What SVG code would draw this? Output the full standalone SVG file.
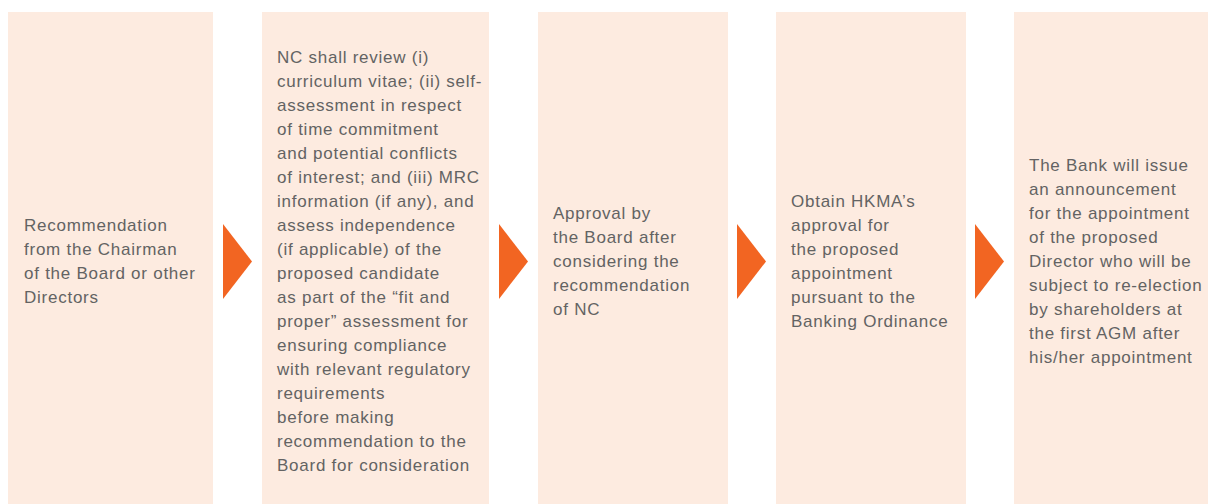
<svg xmlns="http://www.w3.org/2000/svg" width="1208" height="504" viewBox="0 0 1208 504">
<style>
.box{fill:#FDEBE0}
.t{font-family:"Liberation Sans",Arial,sans-serif;font-size:17px;letter-spacing:0.75px;fill:#636363}
.arr{fill:#F26522}
</style>
<rect width="1208" height="504" fill="#fff"/>
<g id="node1">
<rect class="box" x="8" y="12" width="205" height="492"/>
<text class="t"><tspan x="24" y="231">Recommendation</tspan><tspan x="24" y="255">from the Chairman</tspan><tspan x="24" y="279">of the Board or other</tspan><tspan x="24" y="303">Directors</tspan></text>
</g>
<g id="node2">
<rect class="box" x="262" y="12" width="227" height="492"/>
<text class="t"><tspan x="277" y="63">NC shall review (i)</tspan><tspan x="277" y="87">curriculum vitae; (ii) self-</tspan><tspan x="277" y="111">assessment in respect</tspan><tspan x="277" y="135">of time commitment</tspan><tspan x="277" y="159">and potential conflicts</tspan><tspan x="277" y="183">of interest; and (iii) MRC</tspan><tspan x="277" y="207">information (if any), and</tspan><tspan x="277" y="231">assess independence</tspan><tspan x="277" y="255">(if applicable) of the</tspan><tspan x="277" y="279">proposed candidate</tspan><tspan x="277" y="303">as part of the “fit and</tspan><tspan x="277" y="327">proper” assessment for</tspan><tspan x="277" y="351">ensuring compliance</tspan><tspan x="277" y="375">with relevant regulatory</tspan><tspan x="277" y="399">requirements</tspan><tspan x="277" y="423">before making</tspan><tspan x="277" y="447">recommendation to the</tspan><tspan x="277" y="471">Board for consideration</tspan></text>
</g>
<g id="node3">
<rect class="box" x="538" y="12" width="190" height="492"/>
<text class="t"><tspan x="553" y="219">Approval by</tspan><tspan x="553" y="243">the Board after</tspan><tspan x="553" y="267">considering the</tspan><tspan x="553" y="291">recommendation</tspan><tspan x="553" y="315">of NC</tspan></text>
</g>
<g id="node4">
<rect class="box" x="776" y="12" width="190" height="492"/>
<text class="t"><tspan x="791" y="207">Obtain HKMA’s</tspan><tspan x="791" y="231">approval for</tspan><tspan x="791" y="255">the proposed</tspan><tspan x="791" y="279">appointment</tspan><tspan x="791" y="303">pursuant to the</tspan><tspan x="791" y="327">Banking Ordinance</tspan></text>
</g>
<g id="node5">
<rect class="box" x="1014" y="12" width="194" height="492"/>
<text class="t"><tspan x="1029" y="171">The Bank will issue</tspan><tspan x="1029" y="195">an announcement</tspan><tspan x="1029" y="219">for the appointment</tspan><tspan x="1029" y="243">of the proposed</tspan><tspan x="1029" y="267">Director who will be</tspan><tspan x="1029" y="291">subject to re-election</tspan><tspan x="1029" y="315">by shareholders at</tspan><tspan x="1029" y="339">the first AGM after</tspan><tspan x="1029" y="363">his/her appointment</tspan></text>
</g>
<g id="connectors">
<polygon class="arr" points="223,224 252,261.5 223,299"/>
<polygon class="arr" points="499,224 528,261.5 499,299"/>
<polygon class="arr" points="737,224 766,261.5 737,299"/>
<polygon class="arr" points="975,224 1004,261.5 975,299"/>
</g>
</svg>
